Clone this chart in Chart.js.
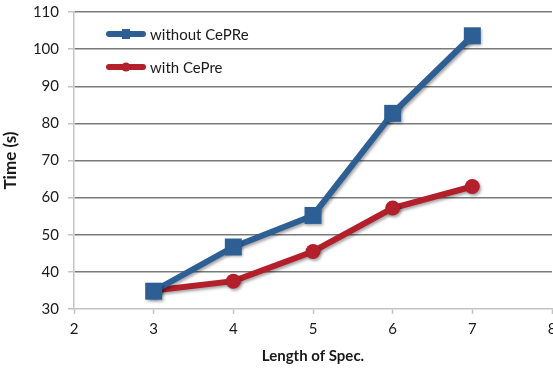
<!DOCTYPE html>
<html>
<head>
<meta charset="utf-8">
<script src="https://cdn.jsdelivr.net/npm/chart.js@4"></script>
<style>
  html, body { margin: 0; padding: 0; background: #fff; }
  #wrap { width: 553px; height: 369px; }
</style>
</head>
<body>
<div id="wrap"><canvas id="timeChart"></canvas></div>
<script>
// Values
const specLengths = [3, 4, 5, 6, 7];
const withoutCePRe = [34.8, 46.7, 55.2, 82.7, 103.6];
const withCePre = [35.0, 37.5, 45.5, 57.2, 63.0];
const seriesLabels = ['without CePRe', 'with CePre'];
const xTicks = [2, 3, 4, 5, 6, 7, 8];
const yTicks = [30, 40, 50, 60, 70, 80, 90, 100, 110];

const theme = {
    blue: '#2d5f95',
    red: '#b3202b',
    grid: '#7a7a7a',
    axis: '#c4c4c4',
    text: '#1a1a1a'
};

const FONT = "Lato, 'Open Sans', sans-serif";

const toPoints = (ys) => specLengths.map((x, i) => ({ x: x, y: ys[i] }));

// soft drop shadow under the lines, like the office chart
const shadowPlugin = {
    id: 'lineShadow',
    beforeDatasetDraw(chart) {
        const ctx = chart.ctx;
        ctx.save();
        ctx.shadowColor = 'rgba(0,0,0,0.35)';
        ctx.shadowBlur = 3;
        ctx.shadowOffsetX = 1.5;
        ctx.shadowOffsetY = 2;
    },
    afterDatasetDraw(chart) {
        chart.ctx.restore();
    }
};

// legend drawn inside the plot, top-left
const insideLegend = {
    id: 'insideLegend',
    afterDraw(chart) {
        const ctx = chart.ctx;
        const x0 = 107, lineLen = 38;
        const rows = [34, 67];
        ctx.save();
        chart.data.datasets.forEach((ds, i) => {
            const y = rows[i];
            const mid = x0 + lineLen / 2;
            ctx.strokeStyle = ds.borderColor;
            ctx.lineWidth = 6;
            ctx.lineCap = 'round';
            ctx.beginPath();
            ctx.moveTo(x0 + 2, y);
            ctx.lineTo(x0 + lineLen - 2, y);
            ctx.stroke();
            ctx.fillStyle = ds.borderColor;
            if (ds.pointStyle === 'rect') {
                ctx.fillRect(mid - 4, y - 5, 8, 10);
            } else {
                ctx.beginPath();
                ctx.arc(mid, y, 4.5, 0, Math.PI * 2);
                ctx.fill();
            }
            ctx.fillStyle = theme.text;
            ctx.font = `15px ${FONT}`;
            ctx.textBaseline = 'middle';
            ctx.textAlign = 'left';
            ctx.fillText(ds.label, x0 + lineLen + 5, y + 1);
        });
        ctx.restore();
    }
};

const ctxTime = document.getElementById('timeChart').getContext('2d');
new Chart(ctxTime, {
    type: 'line',
    data: {
        datasets: [
            {
                label: seriesLabels[0],
                data: toPoints(withoutCePRe),
                borderColor: theme.blue,
                backgroundColor: theme.blue,
                borderWidth: 6,
                pointStyle: 'rect',
                pointRadius: 12,
                pointBorderWidth: 0,
                tension: 0,
                clip: false
            },
            {
                label: seriesLabels[1],
                data: toPoints(withCePre),
                borderColor: theme.red,
                backgroundColor: theme.red,
                borderWidth: 6,
                pointStyle: 'circle',
                pointRadius: 7.5,
                pointBorderWidth: 0,
                tension: 0,
                clip: false
            }
        ]
    },
    options: {
        responsive: true,
        maintainAspectRatio: false,
        animation: false,
        layout: { autoPadding: false, padding: { top: 12, right: 1, left: 0, bottom: 0 } },
        plugins: {
            legend: { display: false },
            tooltip: { enabled: false }
        },
        scales: {
            x: {
                type: 'linear',
                min: xTicks[0],
                max: xTicks[xTicks.length - 1],
                afterBuildTicks: (scale) => { scale.ticks = xTicks.map(v => ({ value: v })); },
                afterFit: (scale) => {
                    scale.height = 60;
                    scale.paddingLeft = 0;
                    scale.paddingRight = 0;
                },
                grid: {
                    drawOnChartArea: false,
                    tickLength: 5,
                    tickColor: theme.axis,
                    tickWidth: 1.5
                },
                border: { color: theme.axis, width: 1.5 },
                ticks: {
                    color: theme.text,
                    font: { family: FONT, size: 15 },
                    padding: 6,
                    maxRotation: 0
                },
                title: {
                    display: true,
                    text: 'Length of Spec.',
                    color: theme.text,
                    font: { family: FONT, size: 15, weight: 'bold' },
                    padding: { top: 3, bottom: 4 }
                }
            },
            y: {
                min: yTicks[0],
                max: yTicks[yTicks.length - 1],
                afterBuildTicks: (scale) => { scale.ticks = yTicks.map(v => ({ value: v })); },
                afterFit: (scale) => {
                    scale.width = 74;
                    scale.paddingTop = 0;
                    scale.paddingBottom = 0;
                },
                grid: {
                    color: (c) => c.tick && c.tick.value === yTicks[0] ? 'rgba(0,0,0,0)' : theme.grid,
                    lineWidth: 1.5,
                    tickLength: 6,
                    tickColor: theme.axis,
                    tickWidth: 1.5
                },
                border: { color: theme.axis, width: 1.5 },
                ticks: {
                    color: theme.text,
                    font: { family: FONT, size: 15 },
                    padding: 9
                },
                title: {
                    display: true,
                    text: 'Time (s)',
                    color: theme.text,
                    font: { family: FONT, size: 17, weight: 'bold' },
                    padding: { top: 0, bottom: 2 }
                }
            }
        }
    },
    plugins: [shadowPlugin, insideLegend]
});
</script>
</body>
</html>
